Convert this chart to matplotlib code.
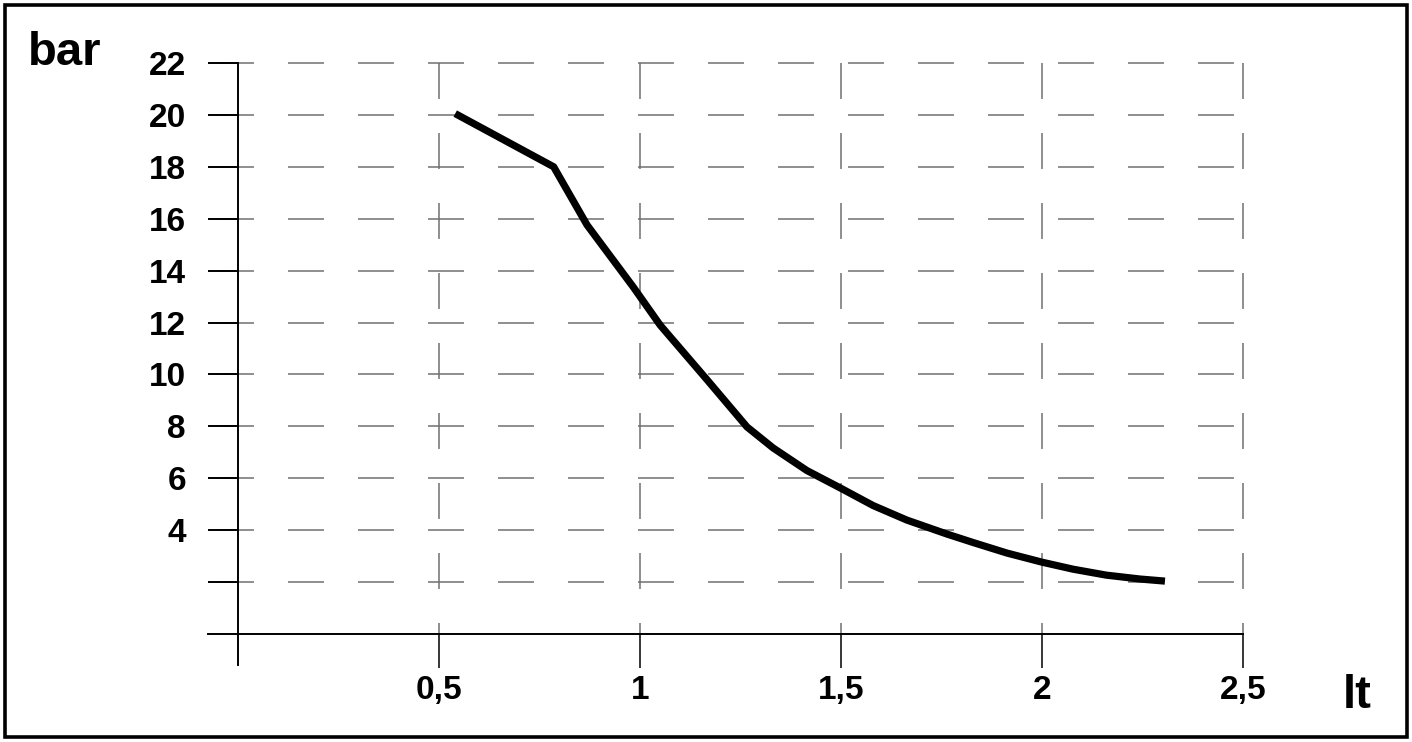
import matplotlib
matplotlib.use("Agg")
from matplotlib import pyplot as plt
from matplotlib.patches import Rectangle

# flow (lt) vs pressure (bar)
flow_lt = [0.54, 0.785, 0.868, 0.983, 1.05, 1.167, 1.266, 1.331, 1.415, 1.498,
           1.58, 1.664, 1.764, 1.83, 1.913, 2.0, 2.077, 2.16, 2.244, 2.306]
pressure_bar = [20.05, 18.0, 15.76, 13.37, 11.9, 9.79, 7.98, 7.17, 6.3, 5.63,
                4.95, 4.39, 3.85, 3.52, 3.12, 2.77, 2.5, 2.27, 2.12, 2.04]

y_ticks = [2, 4, 6, 8, 10, 12, 14, 16, 18, 20, 22]
y_labels = ["", "4", "6", "8", "10", "12", "14", "16", "18", "20", "22"]
x_ticks = [0.5, 1, 1.5, 2, 2.5]
x_labels = ["0,5", "1", "1,5", "2", "2,5"]

plt.rcParams["font.family"] = ["Liberation Sans", "DejaVu Sans"]
plt.rcParams["lines.scale_dashes"] = False

W, H = 1412, 742
fig = plt.figure(figsize=(W / 100, H / 100), dpi=100)

# axes placed in pixel terms
xmin, xmax = -0.095, 2.54
ymin, ymax = -1.5, 22.4
px_x0, px_x1 = 200, 1259
px_y0, px_y1 = 673, 52.6
ax = fig.add_axes([px_x0 / W, 1 - px_y0 / H, (px_x1 - px_x0) / W, (px_y0 - px_y1) / H])
ax.set_xlim(xmin, xmax)
ax.set_ylim(ymin, ymax)
ax.patch.set_visible(False)

grid_kw = dict(color="#707070", linewidth=1.1, linestyles=[(0, (25.9, 24.5))], zorder=1)
ax.hlines(y_ticks, -0.05, 2.5, **grid_kw)
ax.vlines(x_ticks, 22, 0, **grid_kw)

ax.plot(flow_lt, pressure_bar, color="black", linewidth=5.2,
        solid_joinstyle="round", solid_capstyle="butt", zorder=3)

for side in ["top", "right"]:
    ax.spines[side].set_visible(False)
ax.spines["left"].set_position(("data", 0))
ax.spines["left"].set_bounds(-1.2, 22)
ax.spines["bottom"].set_position(("data", 0))
ax.spines["bottom"].set_bounds(-0.075, 2.5)
for side in ["left", "bottom"]:
    ax.spines[side].set_linewidth(1.4)
    ax.spines[side].set_zorder(2)

ax.set_yticks(y_ticks)
ax.set_yticklabels(y_labels)
ax.set_xticks(x_ticks)
ax.set_xticklabels(x_labels)
ax.tick_params(axis="y", direction="out", length=21.6, width=1.4, pad=16,
               labelsize=24)
ax.tick_params(axis="x", direction="out", length=24.5, width=1.1, pad=5,
               labelsize=24)
for lbl in ax.get_xticklabels() + ax.get_yticklabels():
    lbl.set_fontweight("bold")

fig.text(28 / W, 1 - 65 / H, "bar", fontsize=34, fontweight="bold",
         ha="left", va="baseline")
fig.text(1343 / W, 1 - 708 / H, "lt", fontsize=34, fontweight="bold",
         ha="left", va="baseline")

# outer frame
fig.patches.append(Rectangle((5 / W, 5 / H), (W - 10) / W, (H - 10) / H,
                             transform=fig.transFigure, fill=False,
                             edgecolor="black", linewidth=2.6))

plt.savefig("out.png", dpi=100)
